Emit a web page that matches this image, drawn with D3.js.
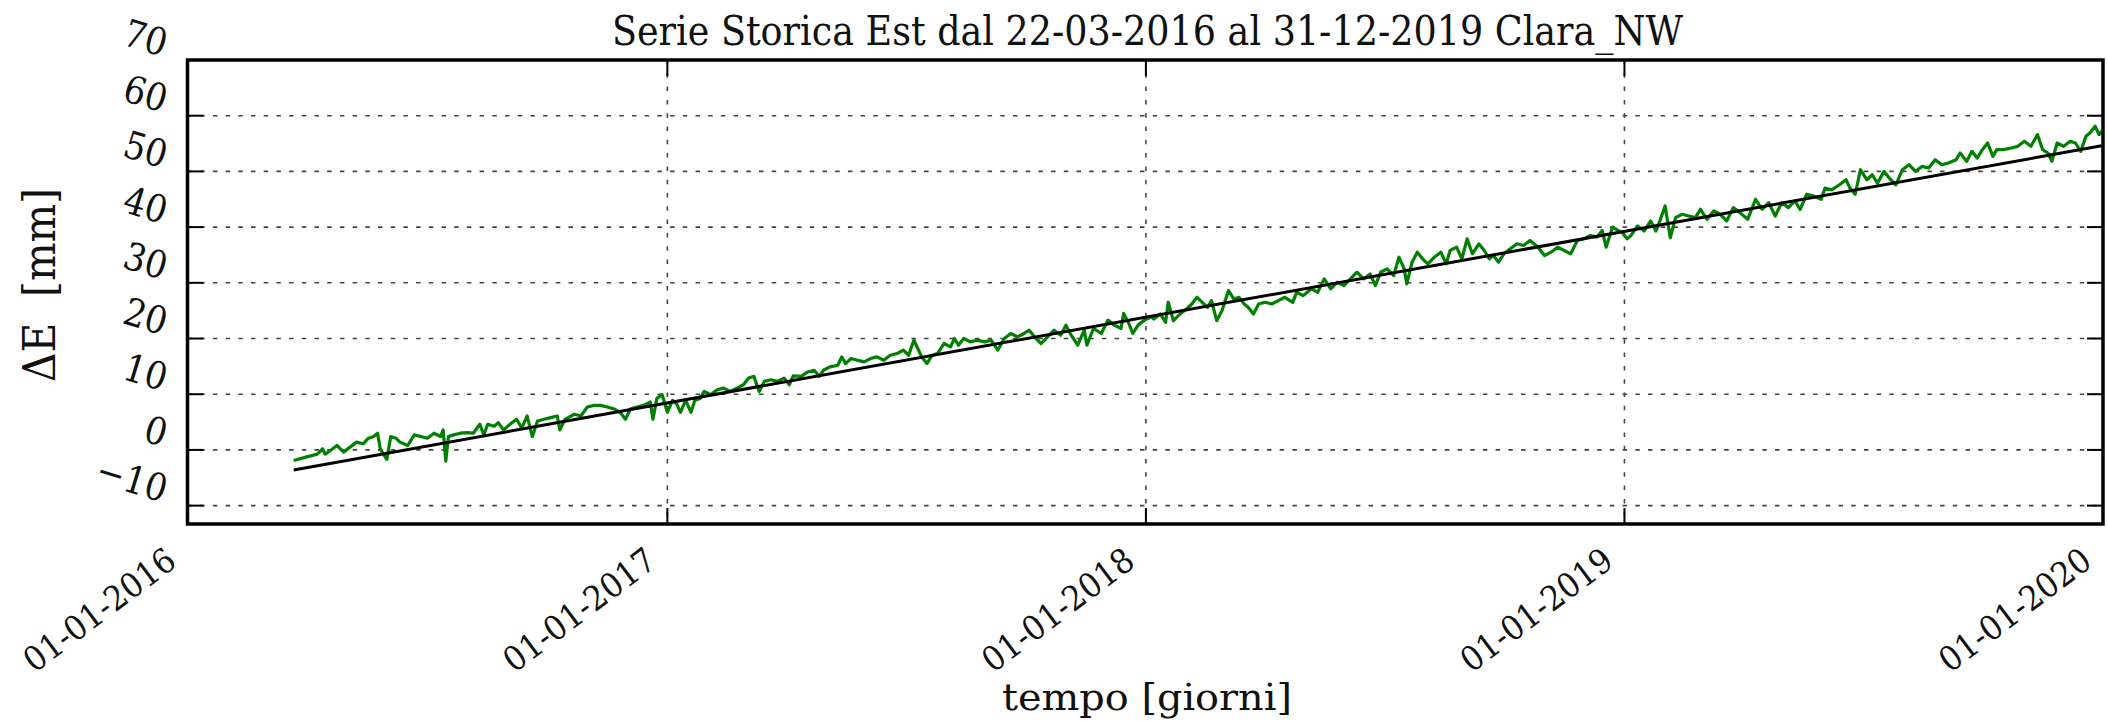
<!DOCTYPE html>
<html>
<head>
<meta charset="utf-8">
<script src="https://cdn.jsdelivr.net/npm/d3@7"></script>
<style>
  body { margin: 0; background: #fff; }
</style>
</head>
<body>
<div class="chart"></div>
<script>
// series starts on 22-03-2016, offsets are days from that date
var seriesStart = "2016-03-22";

var dayOffset = [0,10,18,22,24,28,33,38,43,48,53,57,61,64,66,71,74,78,81,87,92,97,102,107,112,114,116,118,122,127,132,137,142,145,148,153,156,160,165,170,174,178,182,186,191,196,201,203,207,214,219,224,229,234,239,244,249,253,257,262,267,272,274,277,281,285,289,292,295,299,303,306,310,
  313,318,323,328,333,338,343,347,351,355,359,364,369,374,378,381,387,392,397,401,404,409,415,418,421,425,430,435,440,445,450,455,460,465,469,473,476,479,483,487,491,496,501,504,507,511,516,521,527,532,537,542,547,552,557,561,565,570,575,580,585,589,593,598,603,605,610,616,621,626,631,633,637,640,644,649,654,
  656,661,665,667,671,676,681,685,689,693,697,700,704,708,713,717,721,725,728,732,736,741,746,751,756,762,765,770,776,781,786,791,796,801,806,811,816,821,825,829,834,839,843,847,849,853,857,861,865,870,875,879,882,887,891,895,899,904,908,912,915,919,923,928,933,938,943,949,954,959,964,969,974,979,984,989,994,998,1001,1006,1010,1013,1017,1020,
  1025,1030,1035,1039,1042,1046,1050,1054,1059,1064,1069,1073,1078,1083,1088,1093,1098,1103,1109,1115,1120,1125,1130,1135,1140,1145,1149,1154,1159,1165,1168,1173,1179,1184,1187,1191,1195,1200,1204,1208,1213,1217,1222,1227,1232,1237,1242,1247,1252,1257,1262,1268,1271,1276,1280,1284,1288,1292,1296,1299,1304,1310,1315,1320,1325,1330,1334,1338,1341,1345,1350,1355,1359,1363,1367,1370,1374,1377,1379];

var eastMm = [-1.9,-1.25,-0.75,0.2,-0.75,-0.1,0.8,-0.4,0.5,1.4,1.1,2.1,2.4,3.0,0.2,-1.7,2.4,2.1,1.4,0.8,2.7,2.4,2.1,3.0,2.4,3.6,-2.0,2.4,2.7,3.0,3.1,3.0,4.6,2.7,4.6,4.25,4.9,3.6,4.6,5.5,3.9,6.1,2.4,5.2,5.5,5.8,6.1,3.6,5.5,6.4,6.1,7.7,8.0,8.0,7.7,7.4,6.75,5.5,7.4,7.7,8.0,8.6,5.5,9.25,9.9,6.75,8.9,8.3,6.75,8.9,6.75,8.9,9.25,
  10.5,9.9,10.8,11.1,10.5,11.1,11.7,12.9,13.2,10.5,12.3,12.6,12.3,12.9,11.7,13.3,13.2,14.0,14.3,13.2,14.3,14.9,15.2,16.7,15.5,16.4,16.1,15.8,16.4,16.7,16.1,17.0,17.3,17.9,17.0,19.7,18.2,16.7,15.5,17.0,17.3,19.1,18.5,20.0,18.8,20.0,19.4,19.7,19.4,19.7,17.9,20.0,20.9,20.3,20.9,21.5,20.3,19.1,20.3,21.5,20.6,22.4,20.6,18.8,21.5,18.8,21.8,20.9,23.3,22.4,21.8,24.5,22.7,20.9,22.4,23.3,23.9,
  23.5,24.4,22.9,26.5,23.2,24.4,25.3,26.2,27.4,26.5,25.6,26.8,23.2,25.0,28.6,27.1,27.4,26.2,25.6,24.4,26.2,26.5,26.2,26.8,27.4,26.5,28.3,27.7,28.9,28.3,30.7,28.9,30.1,29.5,30.7,31.9,30.7,31.6,29.5,31.9,32.5,31.3,34.6,32.5,29.8,33.7,35.5,34.3,33.4,34.6,35.5,33.4,35.8,36.4,34.3,37.9,35.2,37.0,35.8,34.3,34.9,33.7,35.2,36.1,37.0,36.7,37.6,36.4,34.9,35.5,36.4,35.8,35.2,37.6,37.9,38.5,38.2,39.4,36.4,40.0,39.4,39.1,37.9,38.5,
  40.2,39.3,41.1,39.3,41.1,43.8,38.1,41.7,42.3,42.0,41.7,43.2,41.4,42.9,42.3,41.1,43.5,42.6,41.4,45.0,43.2,44.4,42.0,44.4,43.5,44.7,43.2,45.9,45.6,45.0,47.0,46.7,47.6,48.5,47.0,45.9,50.3,48.5,49.4,47.9,50.0,48.8,47.6,50.3,51.2,50.0,50.9,50.6,52.1,51.2,51.5,52.1,53.3,51.8,53.6,52.4,53.9,55.1,52.7,53.9,53.9,54.2,54.5,55.4,54.5,56.6,53.9,53.3,51.8,55.1,54.5,55.4,55.1,53.6,56.3,56.9,58.1,56.6,57.2];

// linear fit, first and last day
var trendDays = [0, 1379];
var trendMm = [-3.6, 54.6];

var yearTicks = ["2016-01-01", "2017-01-01", "2018-01-01", "2019-01-01", "2020-01-01"];
var yTicks = [-10, 0, 10, 20, 30, 40, 50, 60, 70];

var titleText = "Serie Storica Est dal 22-03-2016 al 31-12-2019 Clara_NW";
var xLabelText = "tempo [giorni]";
var yLabelText = "\u0394E  [mm]";

var serif = "'DejaVu Serif', serif";

var W = 2108, H = 721;
var margin = {top: 60, left: 187.5, right: 5, bottom: 197};
var w = W - margin.left - margin.right,
	h = H - margin.top - margin.bottom;

var svg = d3.select(".chart").append("svg")
	.attr("width", W)
	.attr("height", H);

var g = svg.append("g")
	.attr("transform", "translate(" + margin.left + "," + margin.top + ")");

var parseDay = d3.utcParse("%Y-%m-%d");
var start = parseDay(seriesStart);
var fmtDay = d3.utcFormat("%d-%m-%Y");

var x = d3.scaleUtc()
	.domain([parseDay(yearTicks[0]), parseDay(yearTicks[yearTicks.length - 1])])
	.range([0, w]);

var y = d3.scaleLinear()
	.domain([-13.3, 70])
	.range([h, 0]);

var series = dayOffset.map(function(d, i) {
	return {date: d3.utcDay.offset(start, d), v: eastMm[i]};
});
var trend = trendDays.map(function(d, i) {
	return {date: d3.utcDay.offset(start, d), v: trendMm[i]};
});

// grid
g.selectAll(".hgrid").data(yTicks).enter().append("line")
	.attr("x1", 0).attr("x2", w)
	.attr("y1", function(d) { return y(d); })
	.attr("y2", function(d) { return y(d); })
	.attr("stroke", "#444").attr("stroke-width", 1.6)
	.attr("stroke-dasharray", "4.5 8.2");

g.selectAll(".vgrid").data(yearTicks).enter().append("line")
	.attr("x1", function(d) { return x(parseDay(d)); })
	.attr("x2", function(d) { return x(parseDay(d)); })
	.attr("y1", 0).attr("y2", h)
	.attr("stroke", "#444").attr("stroke-width", 1.6)
	.attr("stroke-dasharray", "4.5 8.8");

var line = d3.line()
	.x(function(d) { return x(d.date); })
	.y(function(d) { return y(d.v); });

g.append("path").datum(series)
	.attr("d", line)
	.attr("fill", "none")
	.attr("stroke", "#008000")
	.attr("stroke-width", 3.2)
	.attr("stroke-linejoin", "round");

g.append("path").datum(trend)
	.attr("d", line)
	.attr("fill", "none")
	.attr("stroke", "#000")
	.attr("stroke-width", 3);

// ticks, inside on all four sides
var tl = 16;
yearTicks.forEach(function(d) {
	var px = x(parseDay(d));
	g.append("line").attr("x1", px).attr("x2", px).attr("y1", h).attr("y2", h - tl).attr("stroke", "#000").attr("stroke-width", 2);
	g.append("line").attr("x1", px).attr("x2", px).attr("y1", 0).attr("y2", tl).attr("stroke", "#000").attr("stroke-width", 2);
});
yTicks.forEach(function(d) {
	var py = y(d);
	g.append("line").attr("x1", 0).attr("x2", tl).attr("y1", py).attr("y2", py).attr("stroke", "#000").attr("stroke-width", 2);
	g.append("line").attr("x1", w).attr("x2", w - tl).attr("y1", py).attr("y2", py).attr("stroke", "#000").attr("stroke-width", 2);
});

g.append("rect")
	.attr("width", w).attr("height", h)
	.attr("fill", "none")
	.attr("stroke", "#000")
	.attr("stroke-width", 3.5);

// rotated tick labels, placed by their bounding box
function rotLabel(str, size, angle, squeeze) {
	var lg = svg.append("g");
	lg.append("text")
		.attr("transform", "rotate(" + angle + ") scale(" + squeeze + ",1)")
		.style("font-family", serif)
		.style("font-size", size + "px")
		.attr("fill", "#111")
		.text(str);
	return lg;
}

yearTicks.forEach(function(d) {
	var lg = rotLabel(fmtDay(parseDay(d)), 34, -37, 0.92);
	var b = lg.node().getBBox();
	var right = margin.left + x(parseDay(d)) - 4;
	var top = margin.top + h + 16;
	lg.attr("transform", "translate(" + (right - b.x - b.width) + "," + (top - b.y) + ")");
});

var fmtY = d3.format("d");
yTicks.forEach(function(d) {
	var lg = rotLabel(fmtY(d), 38, 17, 0.9);
	var b = lg.node().getBBox();
	var right = 173;
	var bottom = margin.top + y(d) + 6;
	lg.attr("transform", "translate(" + (right - b.x - b.width) + "," + (bottom - b.y - b.height) + ")");
});

// title and axis labels
svg.append("text")
	.attr("x", 612).attr("y", 45)
	.attr("textLength", 1071).attr("lengthAdjust", "spacingAndGlyphs")
	.style("font-family", serif).style("font-size", "41px")
	.attr("fill", "#111")
	.text(titleText);

svg.append("text")
	.attr("x", 1002).attr("y", 710)
	.attr("textLength", 290).attr("lengthAdjust", "spacingAndGlyphs")
	.style("font-family", serif).style("font-size", "38px")
	.attr("fill", "#111")
	.text(xLabelText);

svg.append("text")
	.attr("transform", "translate(55,382) rotate(-90)")
	.attr("textLength", 194).attr("lengthAdjust", "spacingAndGlyphs")
	.style("font-family", serif).style("font-size", "44px")
	.style("white-space", "pre")
	.attr("fill", "#111")
	.text(yLabelText);
</script>
</body>
</html>
